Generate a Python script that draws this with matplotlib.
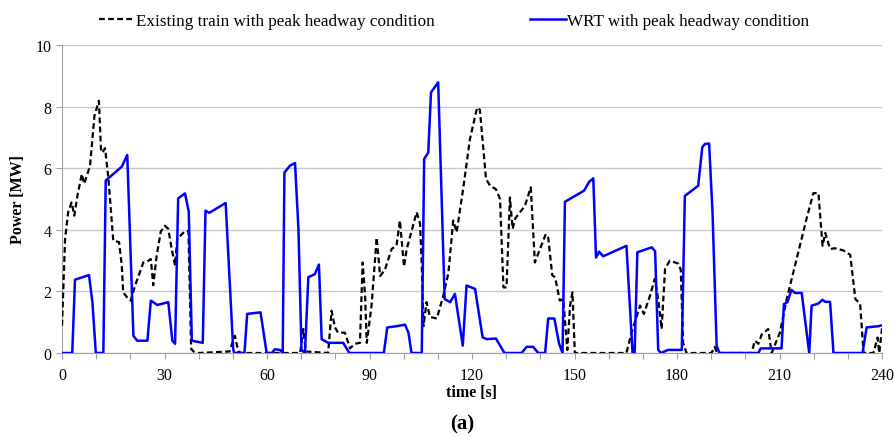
import matplotlib
matplotlib.use("Agg")
import matplotlib.pyplot as plt

# WRT with peak headway condition (time [s], power [MW])
wrt_t = [0, 3.0, 3.8, 7.9, 8.9, 9.9, 12.1, 12.8, 17.5, 19.1, 20.9, 22.0, 25.0, 26.0, 27.9,
         31.1, 32.3, 33.1, 34.0, 36.0, 37.1, 38.0, 41.2, 42.0, 43.1, 47.9, 50.1, 50.4, 53.4,
         54.2, 58.1, 59.9, 61.4, 62.3, 63.8, 64.6, 65.1, 66.7, 68.2, 69.2, 70.1, 71.1, 72.1,
         74.0, 75.2, 76.0, 77.9, 82.3, 84.1, 94.2, 95.2, 97.9, 100.4, 101.4, 102.3, 105.3,
         106.0, 107.2, 108.0, 110.1, 112.0, 113.6, 115.0, 117.3, 118.4, 120.9, 123.1, 124.3,
         127.0, 129.5, 134.5, 136.0, 137.9, 139.4, 141.4, 142.3, 144.1, 145.5, 146.5, 147.2,
         152.8, 154.3, 155.5, 156.3, 157.2, 158.4, 165.2, 167.0, 167.6, 168.4, 172.6, 173.6,
         174.5, 175.3, 177.4, 181.4, 182.3, 186.2, 187.4, 188.2, 189.4, 190.4, 191.6, 192.4,
         203.8, 204.5, 210.6, 211.3, 212.3, 213.5, 214.5, 216.5, 218.7, 219.4, 221.3, 222.6,
         223.4, 224.8, 225.8, 234.3, 235.5, 238.9, 240.0]
wrt_p = [0, 0, 2.38, 2.53, 1.65, 0, 0, 5.6, 6.05, 6.43, 0.56, 0.4, 0.4, 1.7, 1.56,
         1.65, 0.4, 0.3, 5.02, 5.18, 4.59, 0.4, 0.33, 4.62, 4.55, 4.87, 0.13, 0, 0,
         1.27, 1.32, 0, 0, 0.12, 0.1, 0, 5.86, 6.08, 6.17, 4.03, 0.1, 0, 2.46,
         2.56, 2.87, 0.45, 0.33, 0.33, 0, 0, 0.83, 0.87, 0.92, 0.66, 0, 0,
         6.3, 6.51, 8.46, 8.79, 1.75, 1.65, 1.92, 0.24, 2.19, 2.08, 0.51, 0.45,
         0.47, 0, 0, 0.2, 0.2, 0, 0, 1.12, 1.12, 0.3, 0, 4.91,
         5.27, 5.56, 5.67, 3.1, 3.29, 3.14, 3.48, 0, 0, 3.27, 3.43, 3.3,
         0.1, 0, 0.1, 0.1, 5.1, 5.43, 6.68, 6.79, 6.8, 4.56, 0.24, 0,
         0, 0.15, 0.15, 1.59, 1.65, 2.05, 1.95, 1.95, 0, 1.54, 1.6, 1.73,
         1.66, 1.66, 0, 0, 0.83, 0.87, 0.9]

# Existing train with peak headway condition
ext_t = [0, 0.9, 1.8, 2.8, 3.6, 4.5, 5.8, 6.5, 8.2, 9.5, 10.8, 11.4, 11.8, 12.6, 13.6,
         15.0, 16.7, 17.5, 17.9, 19.1, 20.1, 21.4, 23.8, 24.8, 26.0, 26.7, 27.7, 28.9,
         30.1, 31.1, 32.1, 33.1, 33.7, 36.0, 37.0, 37.8, 38.5, 40.0, 49.0, 50.6, 51.6,
         52.5, 69.7, 70.6, 71.4, 77.9, 78.9, 79.9, 80.8, 82.8, 84.3, 85.7, 87.2, 88.0,
         88.7, 89.2, 90.6, 92.1, 93.1, 94.5, 96.5, 97.9, 98.9, 100.1, 100.9, 103.8,
         104.8, 105.3, 105.8, 106.7, 107.7, 109.7, 111.6, 113.1, 114.5, 115.5, 117.4,
         119.4, 121.5, 122.3, 124.1, 125.3, 127.0, 128.2, 129.2, 130.1, 131.1, 131.9,
         132.6, 135.5, 137.2, 138.4, 139.9, 141.6, 142.3, 143.5, 144.3, 145.7, 146.7,
         147.9, 148.7, 149.4, 150.1, 165.2, 166.7, 169.2, 170.3, 172.1, 173.5, 174.5,
         175.5, 176.5, 177.9, 180.4, 181.1, 181.8, 182.8, 190.1, 191.0, 191.8, 201.8,
         202.8, 203.8, 204.8, 206.7, 207.7, 210.1, 212.1, 215.0, 217.9, 219.9, 221.4,
         222.6, 223.4, 224.8, 226.3, 228.7, 230.7, 232.2, 233.6, 234.6, 237.5, 238.7,
         239.2, 240.0]
ext_p = [0.89, 3.7, 4.57, 4.89, 4.46, 5.1, 5.81, 5.49, 6.08, 7.7, 8.19, 6.62, 6.5, 6.65, 5.65,
         3.65, 3.6, 2.84, 1.97, 1.8, 1.7, 2.19, 2.94, 2.96, 3.05, 2.2, 3.15, 3.94,
         4.13, 4.03, 3.38, 2.84, 3.7, 3.96, 3.96, 0.13, 0.05, 0, 0.05, 0.56, 0.05,
         0, 0, 0.78, 0.05, 0, 1.37, 0.83, 0.66, 0.66, 0.15, 0.3, 0.33, 2.94,
         1.87, 0.33, 1.54, 3.75, 2.5, 2.7, 3.38, 3.48, 4.3, 2.8, 3.38, 4.57,
         4.2, 2.84, 0.87, 1.65, 1.17, 1.12, 1.86, 2.6, 4.3, 3.92, 5.32,
         6.95, 7.97, 7.9, 5.65, 5.43, 5.32, 5.0, 2.13, 2.13, 5.05, 4.03,
         4.36, 4.78, 5.38, 2.94, 3.38, 3.86, 3.75, 2.52, 2.46, 1.7, 1.75,
         0.1, 1.54, 1.97, 0, 0, 0.66, 1.54, 1.27, 1.86, 2.41, 1.75,
         0.78, 2.73, 3.0, 2.9, 2.7, 0.33, 0, 0, 0.2, 0, 0,
         0.4, 0.3, 0.6, 0.78, 0, 0.66, 1.75, 3.05, 4.35, 5.19, 5.19,
         3.48, 3.9, 3.38, 3.4, 3.33, 3.19, 1.75, 1.6, 0, 0, 0.5,
         0, 0.8]

x_ticks = list(range(0, 241, 10))
x_labels = [str(v) if v % 30 == 0 else "" for v in x_ticks]
y_ticks = [0, 2, 4, 6, 8, 10]

serif = ["Liberation Serif", "DejaVu Serif"]
plt.rcParams["font.family"] = serif

fig = plt.figure(figsize=(8.95, 4.39), dpi=100)
ax = fig.add_axes([62 / 895, 1 - 354 / 439, 820 / 895, 308 / 439])

ax.plot(ext_t, ext_p, color="black", lw=1.6, ls=(0, (2.6, 1.5)),
        label="Existing train with peak headway condition", zorder=3)
ax.plot(wrt_t, wrt_p, color="#0000ff", lw=1.8,
        label="WRT with peak headway condition", zorder=4)

ax.set_xlim(0, 240)
ax.set_ylim(0, 10)
ax.set_xticks(x_ticks)
ax.set_xticklabels(x_labels)
ax.set_yticks(y_ticks)
ax.grid(axis="y", color="#c8c8c8", lw=1.0)
ax.set_axisbelow(True)
for s in ["top", "right"]:
    ax.spines[s].set_visible(False)
for s in ["left", "bottom"]:
    ax.spines[s].set_color("#a0a0a0")
ax.tick_params(axis="both", colors="#a0a0a0", labelcolor="black", labelsize=11.5,
               length=4, direction="out")
ax.tick_params(axis="x", pad=6)
ax.set_xlabel("time [s]", fontsize=11.5, fontweight="bold", labelpad=1)
ax.set_ylabel("Power [MW]", fontsize=11.5, fontweight="bold", labelpad=7)

ax.legend(loc="lower left", bbox_to_anchor=(0.045, 1.051), ncol=2, frameon=False,
          fontsize=12.3, handlelength=2.1, handletextpad=0.05, columnspacing=5.6,
          borderpad=0, borderaxespad=0)

fig.text(0.516, 0.032, "(a)", fontsize=15, fontweight="bold", ha="center",
         va="center")

fig.savefig("out.png", dpi=100)
